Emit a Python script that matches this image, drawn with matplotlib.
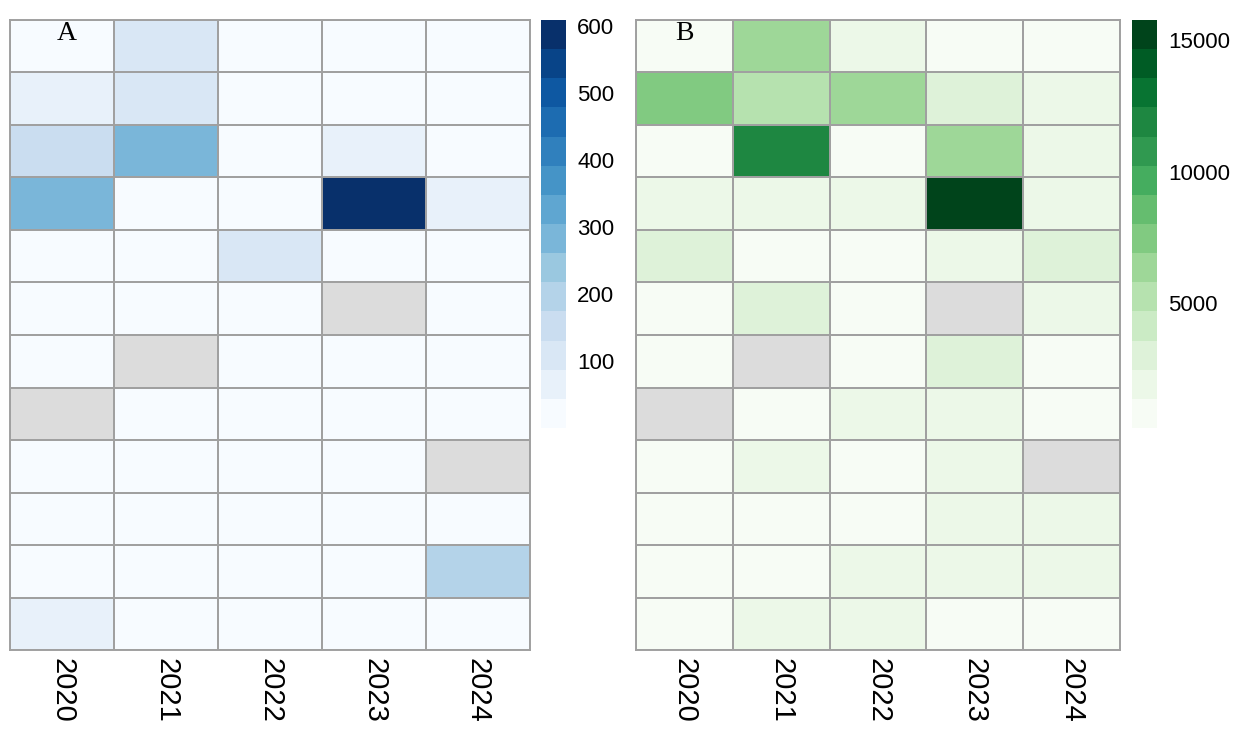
import numpy as np
import matplotlib
matplotlib.use("Agg")
import matplotlib.pyplot as plt
from matplotlib.colors import ListedColormap, BoundaryNorm

plt.rcParams['font.family'] = ['Liberation Sans', 'DejaVu Sans']

years = ['2020', '2021', '2022', '2023', '2024']
nan = np.nan

# panel A, rows top to bottom, columns 2020..2024
vals_a = [
    [10, 110, 0, 0, 0],
    [65, 110, 0, 0, 0],
    [150, 285, 0, 65, 0],
    [285, 0, 0, 609, 65],
    [0, 0, 110, 0, 0],
    [0, 0, 0, nan, 0],
    [0, nan, 0, 0, 0],
    [nan, 0, 0, 0, 0],
    [0, 0, 0, 0, nan],
    [0, 0, 0, 0, 0],
    [0, 0, 0, 0, 195],
    [65, 0, 0, 0, 0],
]

# panel B
vals_b = [
    [500, 6350, 1900, 500, 700],
    [7450, 5240, 6350, 3000, 1900],
    [400, 11880, 500, 6350, 1900],
    [1900, 1800, 1900, 15760, 1900],
    [3000, 500, 600, 1900, 3000],
    [450, 3000, 500, nan, 1900],
    [500, nan, 500, 3000, 400],
    [nan, 450, 1900, 1900, 500],
    [600, 1900, 500, 1900, nan],
    [500, 400, 500, 1900, 1900],
    [250, 500, 1900, 1900, 1900],
    [500, 1900, 1900, 500, 450],
]

ticks_a = [100, 200, 300, 400, 500, 600]
ticks_b = [5000, 10000, 15000]
nbins = 14
grid_col = '#a0a0a0'


def stepped(name, lo, hi):
    cmap = ListedColormap(plt.get_cmap(name)(np.linspace(0, 1, nbins)))
    cmap.set_bad('#dcdcdc')
    bounds = np.linspace(lo, hi, nbins + 1)
    return cmap, BoundaryNorm(bounds, nbins), bounds


def panel(ax, cax, vals, name, lo, hi, ticks, letter, lx):
    data = np.ma.masked_invalid(np.array(vals, dtype=float))
    cmap, norm, bounds = stepped(name, lo, hi)
    ax.pcolormesh(data, cmap=cmap, norm=norm, edgecolors=grid_col, linewidth=1.1)
    ax.set_xlim(0, data.shape[1])
    ax.set_ylim(data.shape[0], 0)
    ax.set_xticks(np.arange(data.shape[1]) + 0.5)
    ax.set_xticklabels(years, rotation=270, fontsize=21)
    ax.set_yticks([])
    ax.tick_params(axis='x', length=0, pad=6)
    for s in ax.spines.values():
        s.set_color(grid_col)
        s.set_linewidth(1.4)
    ax.text(lx, 0.25, letter, fontsize=20, family='Liberation Serif',
            ha='center', va='center')

    cb = plt.colorbar(plt.cm.ScalarMappable(norm=norm, cmap=cmap), cax=cax,
                      boundaries=bounds, ticks=ticks)
    cb.outline.set_visible(False)
    cb.ax.minorticks_off()
    cb.ax.tick_params(which='both', length=0, labelsize=16, pad=8)


fig = plt.figure(figsize=(12.36, 7.32), dpi=100)
ax_a = fig.add_axes([0.0081, 0.112, 0.4207, 0.8607])
cax_a = fig.add_axes([0.4377, 0.4153, 0.0202, 0.5574])
ax_b = fig.add_axes([0.5146, 0.112, 0.3916, 0.8607])
cax_b = fig.add_axes([0.9159, 0.4153, 0.0202, 0.5574])

panel(ax_a, cax_a, vals_a, 'Blues', 0, 609, ticks_a, 'A', 0.55)
panel(ax_b, cax_b, vals_b, 'Greens', 250, 15760, ticks_b, 'B', 0.5)

fig.savefig('out.png', dpi=100)
